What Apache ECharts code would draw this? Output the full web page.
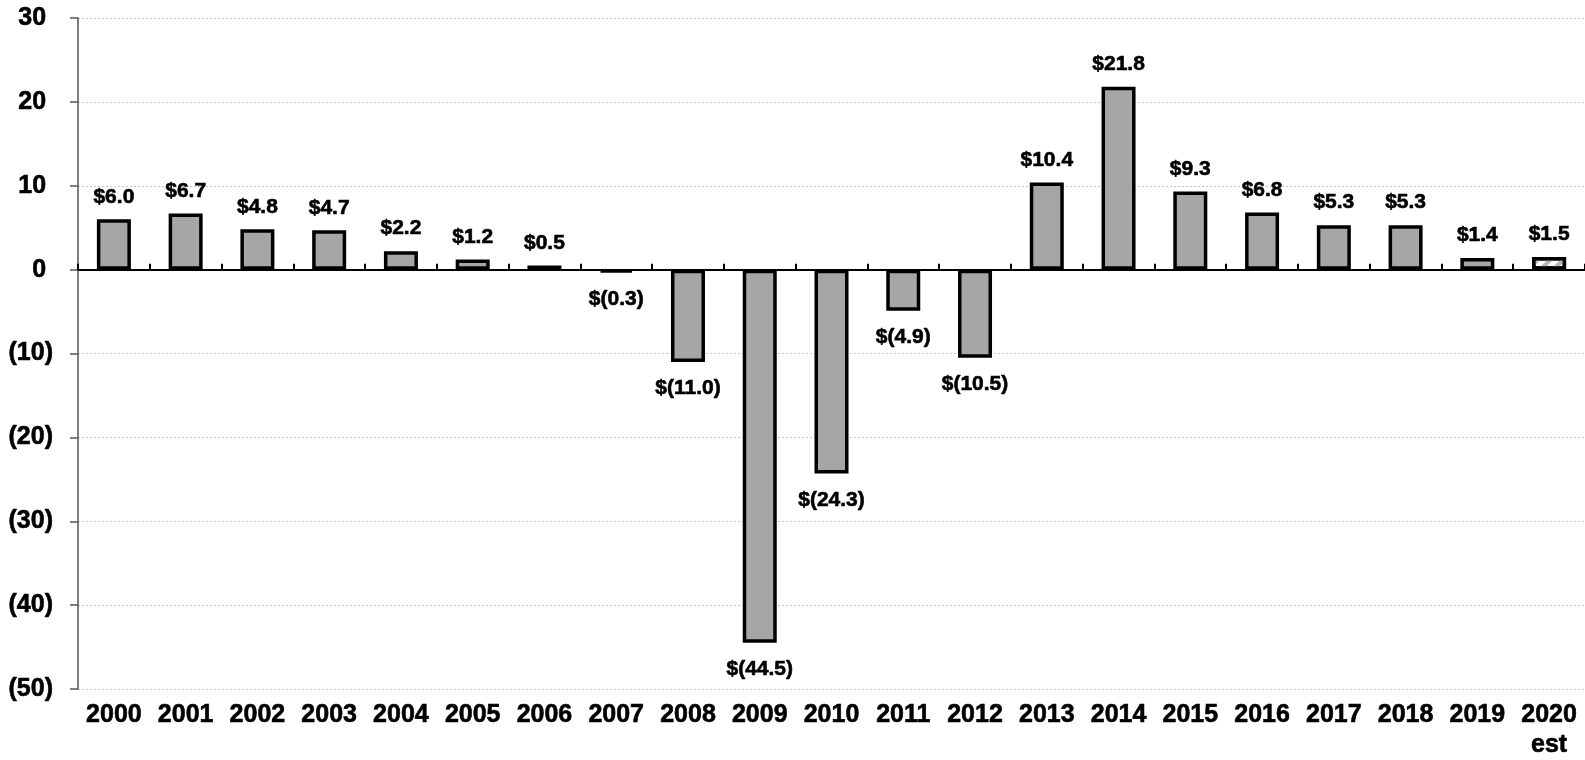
<!DOCTYPE html>
<html>
<head>
<meta charset="utf-8">
<script src="https://cdn.jsdelivr.net/npm/echarts@6/dist/echarts.min.js"></script>
<style>
  html, body { margin: 0; padding: 0; background: #fff; }
  #chart { width: 1585px; height: 760px; }
</style>
</head>
<body>
<div id="chart"></div>
<script>
// Annual change, in billions of dollars
const years = ['2000','2001','2002','2003','2004','2005','2006','2007','2008','2009','2010',
               '2011','2012','2013','2014','2015','2016','2017','2018','2019','2020\nest'];
const values = [6.0, 6.7, 4.8, 4.7, 2.2, 1.2, 0.5, -0.3, -11.0, -44.5, -24.3,
                -4.9, -10.5, 10.4, 21.8, 9.3, 6.8, 5.3, 5.3, 1.4, 1.5];
// Last year is an estimate, drawn hatched
const estimateIndex = [20];
const yTicks = { min: -50, max: 30, step: 10 };

const FONT = '"Liberation Sans", Arial, sans-serif';

function moneyLabel(v) {
  return v < 0 ? '$(' + Math.abs(v).toFixed(1) + ')' : '$' + v.toFixed(1);
}

const seriesData = values.map((v, i) => {
  const item = {
    value: v,
    label: v < 0 ? { position: 'bottom', distance: 16 } : { position: 'top', distance: 12 }
  };
  if (estimateIndex.includes(i)) {
    item.itemStyle = {
      color: '#ffffff',
      decal: {
        symbol: 'rect',
        color: '#b5b5b5',
        dashArrayX: [1, 0],
        dashArrayY: [4, 5],
        rotation: -Math.PI / 4
      }
    };
  }
  return item;
});

const heavy = { textBorderColor: '#000', textBorderWidth: 0.6 };

const chart = echarts.init(document.getElementById('chart'), null, { renderer: 'canvas' });

chart.setOption({
  animation: false,
  backgroundColor: '#ffffff',
  grid: { left: 78, right: 0, top: 18, bottom: 69, containLabel: false },
  xAxis: [
    {
      // category labels along the bottom edge
      type: 'category',
      data: years,
      position: 'bottom',
      boundaryGap: true,
      axisLine: { show: false, onZero: false },
      axisTick: { show: false },
      axisLabel: Object.assign({
        interval: 0,
        margin: 11,
        fontFamily: FONT,
        fontWeight: 'bold',
        fontSize: 25,
        lineHeight: 30,
        color: '#000'
      }, heavy)
    },
    {
      // zero line with upward tick marks between years
      type: 'category',
      data: years,
      position: 'top',
      boundaryGap: true,
      axisLine: { show: true, onZero: true, lineStyle: { color: '#000', width: 2 } },
      axisTick: { show: true, inside: false, length: 6, lineStyle: { color: '#000', width: 2 } },
      axisLabel: { show: false }
    }
  ],
  yAxis: {
    type: 'value',
    min: yTicks.min,
    max: yTicks.max,
    interval: yTicks.step,
    axisLine: { show: true, lineStyle: { color: '#555', width: 1.5 } },
    axisTick: { show: true, length: 8, lineStyle: { color: '#555', width: 1.5 } },
    splitLine: { show: true, lineStyle: { color: '#c4c4c4', width: 1, type: [2, 2] } },
    axisLabel: Object.assign({
      margin: 25,
      fontFamily: FONT,
      fontWeight: 'bold',
      fontSize: 25,
      color: '#000',
      formatter: v => (v < 0 ? '(' + Math.abs(v) + ')' : v + ' ')
    }, heavy)
  },
  series: [{
    type: 'bar',
    xAxisIndex: 0,
    data: seriesData,
    barWidth: 34,
    itemStyle: { color: '#a6a6a6', borderColor: '#000', borderWidth: 3.5 },
    label: Object.assign({
      show: true,
      fontFamily: FONT,
      fontWeight: 'bold',
      fontSize: 21,
      color: '#000',
      formatter: p => moneyLabel(p.value)
    }, heavy)
  }]
});
</script>
</body>
</html>
